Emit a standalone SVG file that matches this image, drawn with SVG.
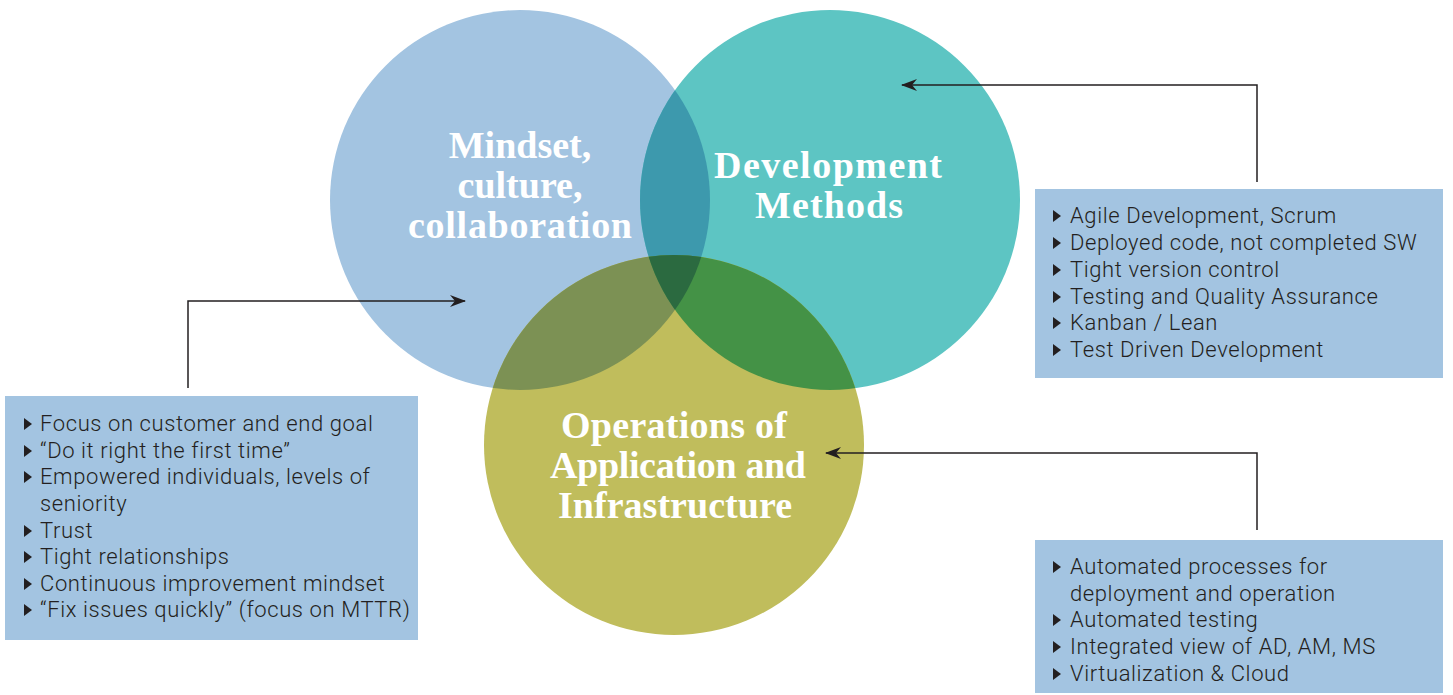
<svg xmlns="http://www.w3.org/2000/svg" width="1453" height="695" viewBox="0 0 1453 695">
<style>
.head{font-family:"Liberation Serif","DejaVu Serif",serif;font-weight:bold;font-size:38px;fill:#ffffff;text-anchor:middle}
.item{font-family:Roboto,"Liberation Sans",sans-serif;font-weight:300;font-size:22px;letter-spacing:0.6px;fill:#231f20}
.box{fill:#a3c4e1}
.conn{fill:none;stroke:#231f20;stroke-width:1.5}
</style>
<defs>
<clipPath id="cA"><circle cx="520" cy="200" r="190"/></clipPath>
<clipPath id="cB"><circle cx="830" cy="200" r="190"/></clipPath>
<path id="tri" d="M0,-6 L8,0 L0,6 Z" fill="#231f20"/>
<marker id="arr" viewBox="0 0 16 12" refX="15" refY="6" markerWidth="16" markerHeight="12" markerUnits="userSpaceOnUse" orient="auto">
<path d="M0,0 L16,6 L0,12 L5,6 Z" fill="#231f20"/>
</marker>
</defs>
<rect width="1453" height="695" fill="#ffffff"/>

<g id="circles">
<circle cx="520" cy="200" r="190" fill="#a3c4e1"/>
<circle cx="830" cy="200" r="190" fill="#5dc5c3"/>
<circle cx="674" cy="445" r="190" fill="#c0bd5c"/>
<circle cx="830" cy="200" r="190" fill="#3d99ad" clip-path="url(#cA)"/>
<circle cx="674" cy="445" r="190" fill="#7c9154" clip-path="url(#cA)"/>
<circle cx="674" cy="445" r="190" fill="#449246" clip-path="url(#cB)"/>
<g clip-path="url(#cA)"><circle cx="674" cy="445" r="190" fill="#2b6a40" clip-path="url(#cB)"/></g>
</g>

<g id="node-mindset">
<text class="head" x="520" y="158">Mindset,</text>
<text class="head" x="520" y="198">culture,</text>
<text class="head" x="520" y="238" textLength="224">collaboration</text>
</g>
<g id="node-development">
<text class="head" x="828" y="178" textLength="228">Development</text>
<text class="head" x="829" y="218" textLength="148">Methods</text>
</g>
<g id="node-operations">
<text class="head" x="674" y="438" textLength="226">Operations of</text>
<text class="head" x="678" y="478" textLength="256">Application and</text>
<text class="head" x="675" y="518" textLength="234">Infrastructure</text>
</g>

<g id="connectors">
<path class="conn" d="M188,388 V301 H465" marker-end="url(#arr)"/>
<path class="conn" d="M1257,182 V85 H902" marker-end="url(#arr)"/>
<path class="conn" d="M1257,530 V453 H826" marker-end="url(#arr)"/>
</g>

<g id="box-left">
<rect class="box" x="5" y="396" width="413" height="244"/>
<use href="#tri" x="24" y="424"/><text class="item" x="40" y="431">Focus on customer and end goal</text>
<use href="#tri" x="24" y="451"/><text class="item" x="40" y="458">“Do it right the first time”</text>
<use href="#tri" x="24" y="477"/><text class="item" x="40" y="484">Empowered individuals, levels of</text>
<text class="item" x="40" y="511">seniority</text>
<use href="#tri" x="24" y="531"/><text class="item" x="40" y="538">Trust</text>
<use href="#tri" x="24" y="557"/><text class="item" x="40" y="564">Tight relationships</text>
<use href="#tri" x="24" y="584"/><text class="item" x="40" y="591">Continuous improvement mindset</text>
<use href="#tri" x="24" y="610"/><text class="item" x="40" y="617">“Fix issues quickly” (focus on MTTR)</text>
</g>

<g id="box-top-right">
<rect class="box" x="1035" y="189" width="408" height="189"/>
<use href="#tri" x="1053" y="216"/><text class="item" x="1070" y="223">Agile Development, Scrum</text>
<use href="#tri" x="1053" y="243"/><text class="item" x="1070" y="250">Deployed code, not completed SW</text>
<use href="#tri" x="1053" y="270"/><text class="item" x="1070" y="277">Tight version control</text>
<use href="#tri" x="1053" y="297"/><text class="item" x="1070" y="304">Testing and Quality Assurance</text>
<use href="#tri" x="1053" y="323"/><text class="item" x="1070" y="330">Kanban / Lean</text>
<use href="#tri" x="1053" y="350"/><text class="item" x="1070" y="357">Test Driven Development</text>
</g>

<g id="box-bottom-right">
<rect class="box" x="1035" y="540" width="408" height="153"/>
<use href="#tri" x="1053" y="567"/><text class="item" x="1070" y="574">Automated processes for</text>
<text class="item" x="1070" y="601">deployment and operation</text>
<use href="#tri" x="1053" y="620"/><text class="item" x="1070" y="627">Automated testing</text>
<use href="#tri" x="1053" y="647"/><text class="item" x="1070" y="654">Integrated view of AD, AM, MS</text>
<use href="#tri" x="1053" y="674"/><text class="item" x="1070" y="681">Virtualization &amp; Cloud</text>
</g>
</svg>
